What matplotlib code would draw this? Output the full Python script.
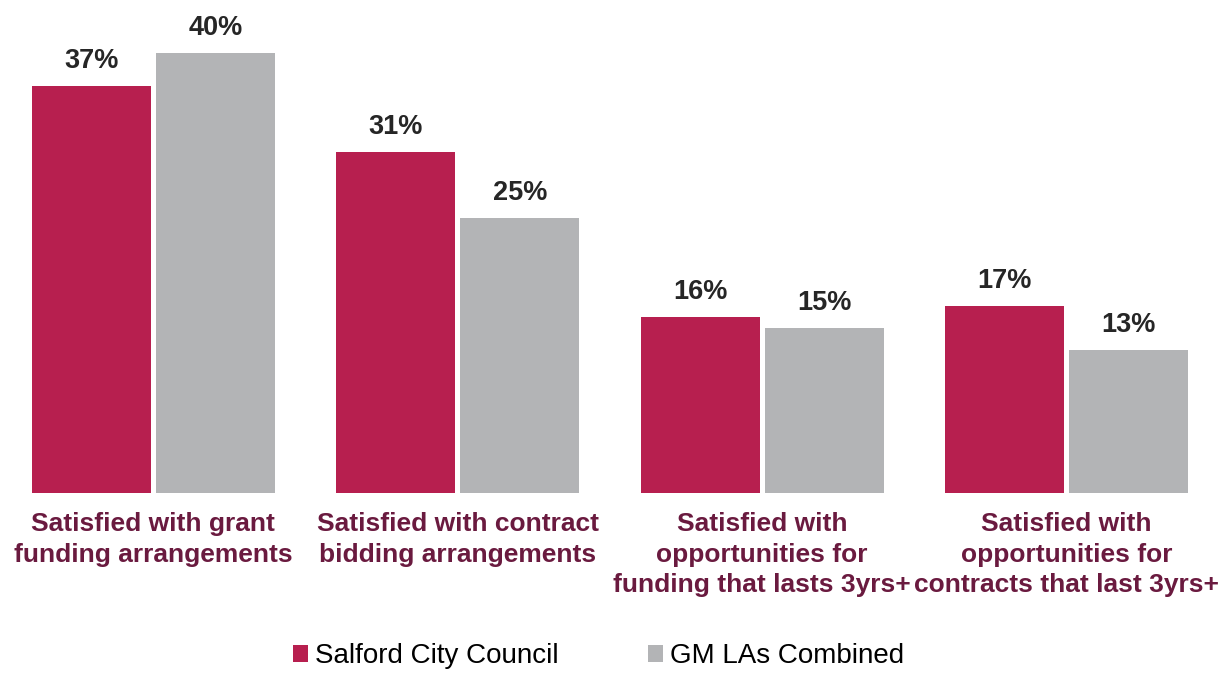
import numpy as np
import matplotlib
matplotlib.use("Agg")
import matplotlib.pyplot as plt

plt.rcParams['font.family'] = ['Liberation Sans', 'DejaVu Sans']

categories = [
    "Satisfied with grant\nfunding arrangements",
    "Satisfied with contract\nbidding arrangements",
    "Satisfied with\nopportunities for\nfunding that lasts 3yrs+",
    "Satisfied with\nopportunities for\ncontracts that last 3yrs+",
]
salford = [37, 31, 16, 17]
gm_combined = [40, 25, 15, 13]
series_names = ["Salford City Council", "GM LAs Combined"]

RED = "#B71F4F"
GREY = "#B3B4B6"
LABEL_COLOR = "#6A1A3F"
VALUE_COLOR = "#262626"


def main():
    fig = plt.figure(figsize=(12.32, 6.74), dpi=100)
    ax = fig.add_axes([0, 0.2685, 1, 0.7315])

    x = np.arange(len(categories))
    width = 0.391
    offset = 0.204

    b1 = ax.bar(x - offset, salford, width, color=RED, label=series_names[0])
    b2 = ax.bar(x + offset, gm_combined, width, color=GREY, label=series_names[1])

    # value labels above each bar
    for bars, vals in [(b1, salford), (b2, gm_combined)]:
        for rect, v in zip(bars, vals):
            ax.annotate(f"{v}%", (rect.get_x() + rect.get_width() / 2, v),
                        xytext=(0, 18), textcoords="offset points",
                        ha="center", va="center", fontsize=19.5,
                        fontweight="bold", color=VALUE_COLOR)

    # category labels under each group
    for xi, cat in zip(x, categories):
        ax.annotate(cat, (xi, 0), xytext=(0, -14), textcoords="offset points",
                    ha="center", va="top", fontsize=19,
                    fontweight="bold", color=LABEL_COLOR, linespacing=1.32)

    ax.set_xlim(-0.504, 3.544)
    ax.set_ylim(0, 44.8)
    ax.axis("off")

    fig.legend(loc="center", bbox_to_anchor=(0.486, 0.026), ncol=2,
               frameon=False, fontsize=20, handlelength=0.55, handleheight=0.55,
               handletextpad=0.25, columnspacing=3.2)

    fig.savefig("out.png", dpi=100)


if __name__ == "__main__":
    main()
